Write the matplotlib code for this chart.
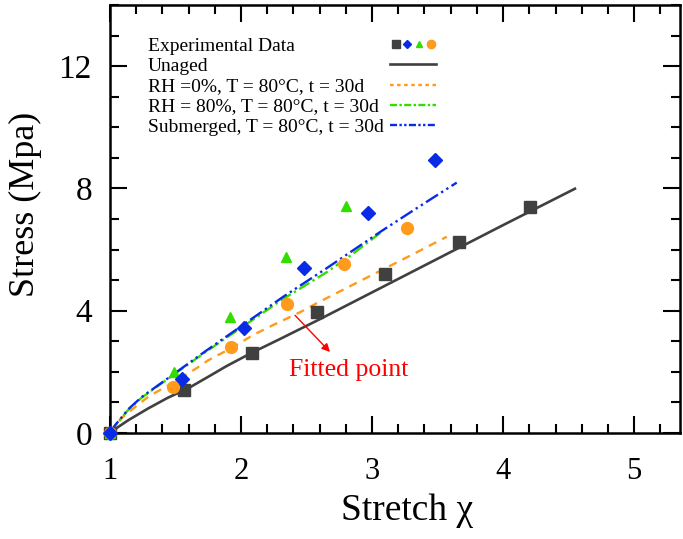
import matplotlib
matplotlib.use("Agg")
import matplotlib.pyplot as plt
from matplotlib.lines import Line2D
from matplotlib.legend_handler import HandlerTuple

plt.rcParams['font.family'] = ['Liberation Serif', 'DejaVu Serif']
plt.rcParams['mathtext.fontset'] = 'stix'

# ---------------- data ----------------
# experimental points
unaged_x = [1.0, 1.567, 2.084, 2.58, 3.10, 3.66, 4.206]
unaged_y = [0.0, 1.42, 2.63, 3.95, 5.19, 6.26, 7.39]
rh0_x = [1.0, 1.483, 1.924, 2.349, 2.789, 3.27]
rh0_y = [0.0, 1.51, 2.81, 4.23, 5.53, 6.69]
rh80_x = [1.0, 1.489, 1.918, 2.341, 2.80]
rh80_y = [0.0, 1.98, 3.79, 5.77, 7.42]
sub_x = [1.0, 1.547, 2.025, 2.479, 2.972, 3.481]
sub_y = [0.0, 1.76, 3.45, 5.40, 7.18, 8.93]

# fitted curves
fit_unaged_x = [1.0, 1.06, 1.14, 1.29, 1.44, 1.6, 1.75, 1.89, 2.08, 2.3, 2.6, 3.0, 3.5, 4.0, 4.557]
fit_unaged_y = [0.0, 0.19, 0.42, 0.80, 1.15, 1.47, 1.84, 2.19, 2.62, 3.08, 3.72, 4.60, 5.70, 6.80, 8.01]
fit_rh0_x = [1.0, 1.05, 1.10, 1.20, 1.30, 1.48, 1.65, 1.75, 1.94, 2.09, 2.23, 2.45, 2.58, 3.0, 3.3, 3.57]
fit_rh0_y = [0.0, 0.30, 0.53, 0.88, 1.21, 1.64, 2.09, 2.38, 2.81, 3.20, 3.50, 3.95, 4.25, 5.17, 5.82, 6.42]
fit_rh80_x = [1.0, 1.04, 1.14, 1.24, 1.49, 1.73, 2.02, 2.32, 2.65, 2.85, 3.07]
fit_rh80_y = [0.0, 0.25, 0.76, 1.15, 1.92, 2.65, 3.50, 4.38, 5.25, 5.85, 6.57]
fit_sub_x = [1.0, 1.04, 1.14, 1.24, 1.49, 1.73, 2.02, 2.32, 2.65, 3.07, 3.35, 3.646]
fit_sub_y = [0.0, 0.26, 0.78, 1.17, 1.94, 2.68, 3.55, 4.45, 5.38, 6.60, 7.38, 8.19]

labels = ["Experimental Data", "Unaged",
          "RH =0%, T = 80°C, t = 30d",
          "RH = 80%, T = 80°C, t = 30d",
          "Submerged, T = 80°C, t = 30d"]

arrow_start = (2.412, 3.85)
arrow_end = (2.679, 2.65)
note_pos = (2.824, 2.05)
note_text = "Fitted point"

# ---------------- styles ----------------
c_black = '#404040'
c_orange = '#FF9A1A'
c_green = '#33DD00'
c_blue = '#0A2BE6'

fig = plt.figure(figsize=(6.83, 5.39), dpi=100)
ax = fig.add_axes([110/683, 1-433/539, 570/683, 428/539])

ax.plot(fit_unaged_x, fit_unaged_y, color=c_black, lw=1.9, solid_capstyle='butt')
ax.plot(fit_rh0_x, fit_rh0_y, color=c_orange, lw=1.7, dashes=(3.5, 2.8))
ax.plot(fit_rh80_x, fit_rh80_y, color=c_green, lw=1.7, dashes=(5, 1.6, 1, 1.6))
ax.plot(fit_sub_x, fit_sub_y, color=c_blue, lw=1.7, dashes=(6, 1.6, 1, 1.6, 1, 1.6))

ms = 8.5
ax.plot(unaged_x, unaged_y, 's', color=c_black, ms=ms, ls='none', clip_on=False, zorder=5)
ax.plot(rh0_x, rh0_y, 'o', color=c_orange, ms=ms, ls='none', clip_on=False, zorder=5)
ax.plot(rh80_x, rh80_y, '^', color=c_green, ms=7, ls='none', clip_on=False, zorder=5)
ax.plot(sub_x, sub_y, 'D', color=c_blue, ms=7, ls='none', clip_on=False, zorder=5)

ax.annotate('', xy=arrow_end, xytext=arrow_start,
            arrowprops=dict(arrowstyle='-|>', color='#FF0000', lw=1.0,
                            mutation_scale=12, shrinkA=0, shrinkB=0))
ax.text(note_pos[0], note_pos[1], note_text, color='#FF0000', fontsize=18.5,
        ha='center', va='center')

# legend: left-aligned labels with samples in a column at the right
hm = 5.5
h_exp = (Line2D([], [], marker='s', color=c_black, ls='none', ms=hm),
         Line2D([], [], marker='D', color=c_blue, ls='none', ms=hm - 1),
         Line2D([], [], marker='^', color=c_green, ls='none', ms=hm - 0.5),
         Line2D([], [], marker='o', color=c_orange, ls='none', ms=hm + 0.5))
h_un = Line2D([], [], color=c_black, lw=1.9)
h_rh0 = Line2D([], [], color=c_orange, lw=1.7, dashes=(1.5, 1.5))
h_rh80 = Line2D([], [], color=c_green, lw=1.7, dashes=(3, 1, 1, 1))
h_sub = Line2D([], [], color=c_blue, lw=1.7, dashes=(3, 1, 1, 1, 1, 1))

leg_kw = dict(loc='upper left', bbox_to_anchor=(0.0667, 0.924), frameon=False,
              fontsize=14, labelspacing=0.13, borderpad=0, borderaxespad=0)
leg_handles = ax.legend([h_exp, h_un, h_rh0, h_rh80, h_sub], labels,
                        handler_map={tuple: HandlerTuple(ndivide=None, pad=0.0)},
                        markerfirst=False, handlelength=2.4, handletextpad=0.3,
                        **leg_kw)
for t in leg_handles.get_texts():
    t.set_alpha(0)
ax.add_artist(leg_handles)
blank = [Line2D([], [], ls='none') for _ in labels]
ax.legend(blank, labels, handlelength=0, handletextpad=0, **leg_kw)

# axes
ax.set_xlim(1.0, 5.35)
ax.set_ylim(0, 14)
ax.set_xticks([1, 2, 3, 4, 5])
ax.set_yticks([0, 4, 8, 12])
ax.set_xticks([1 + 0.2 * i for i in range(22)], minor=True)
ax.set_yticks(list(range(15)), minor=True)
ax.tick_params(which='both', direction='in', top=True, right=True, width=1.5)
ax.tick_params(which='major', length=12.5)
ax.tick_params(which='minor', length=6.5)
ax.tick_params(axis='x', which='major', labelsize=22, pad=17)
ax.tick_params(axis='y', which='major', labelsize=24, pad=13)
for sp in ax.spines.values():
    sp.set_linewidth(1.8)

ax.set_xlabel('Stretch χ', fontsize=27)
ax.set_ylabel('Stress (Mpa)', fontsize=26)
ax.xaxis.set_label_coords(0.521, -0.1425)
ax.yaxis.set_label_coords(-0.119, 0.535)

fig.savefig('out.png', dpi=100)
